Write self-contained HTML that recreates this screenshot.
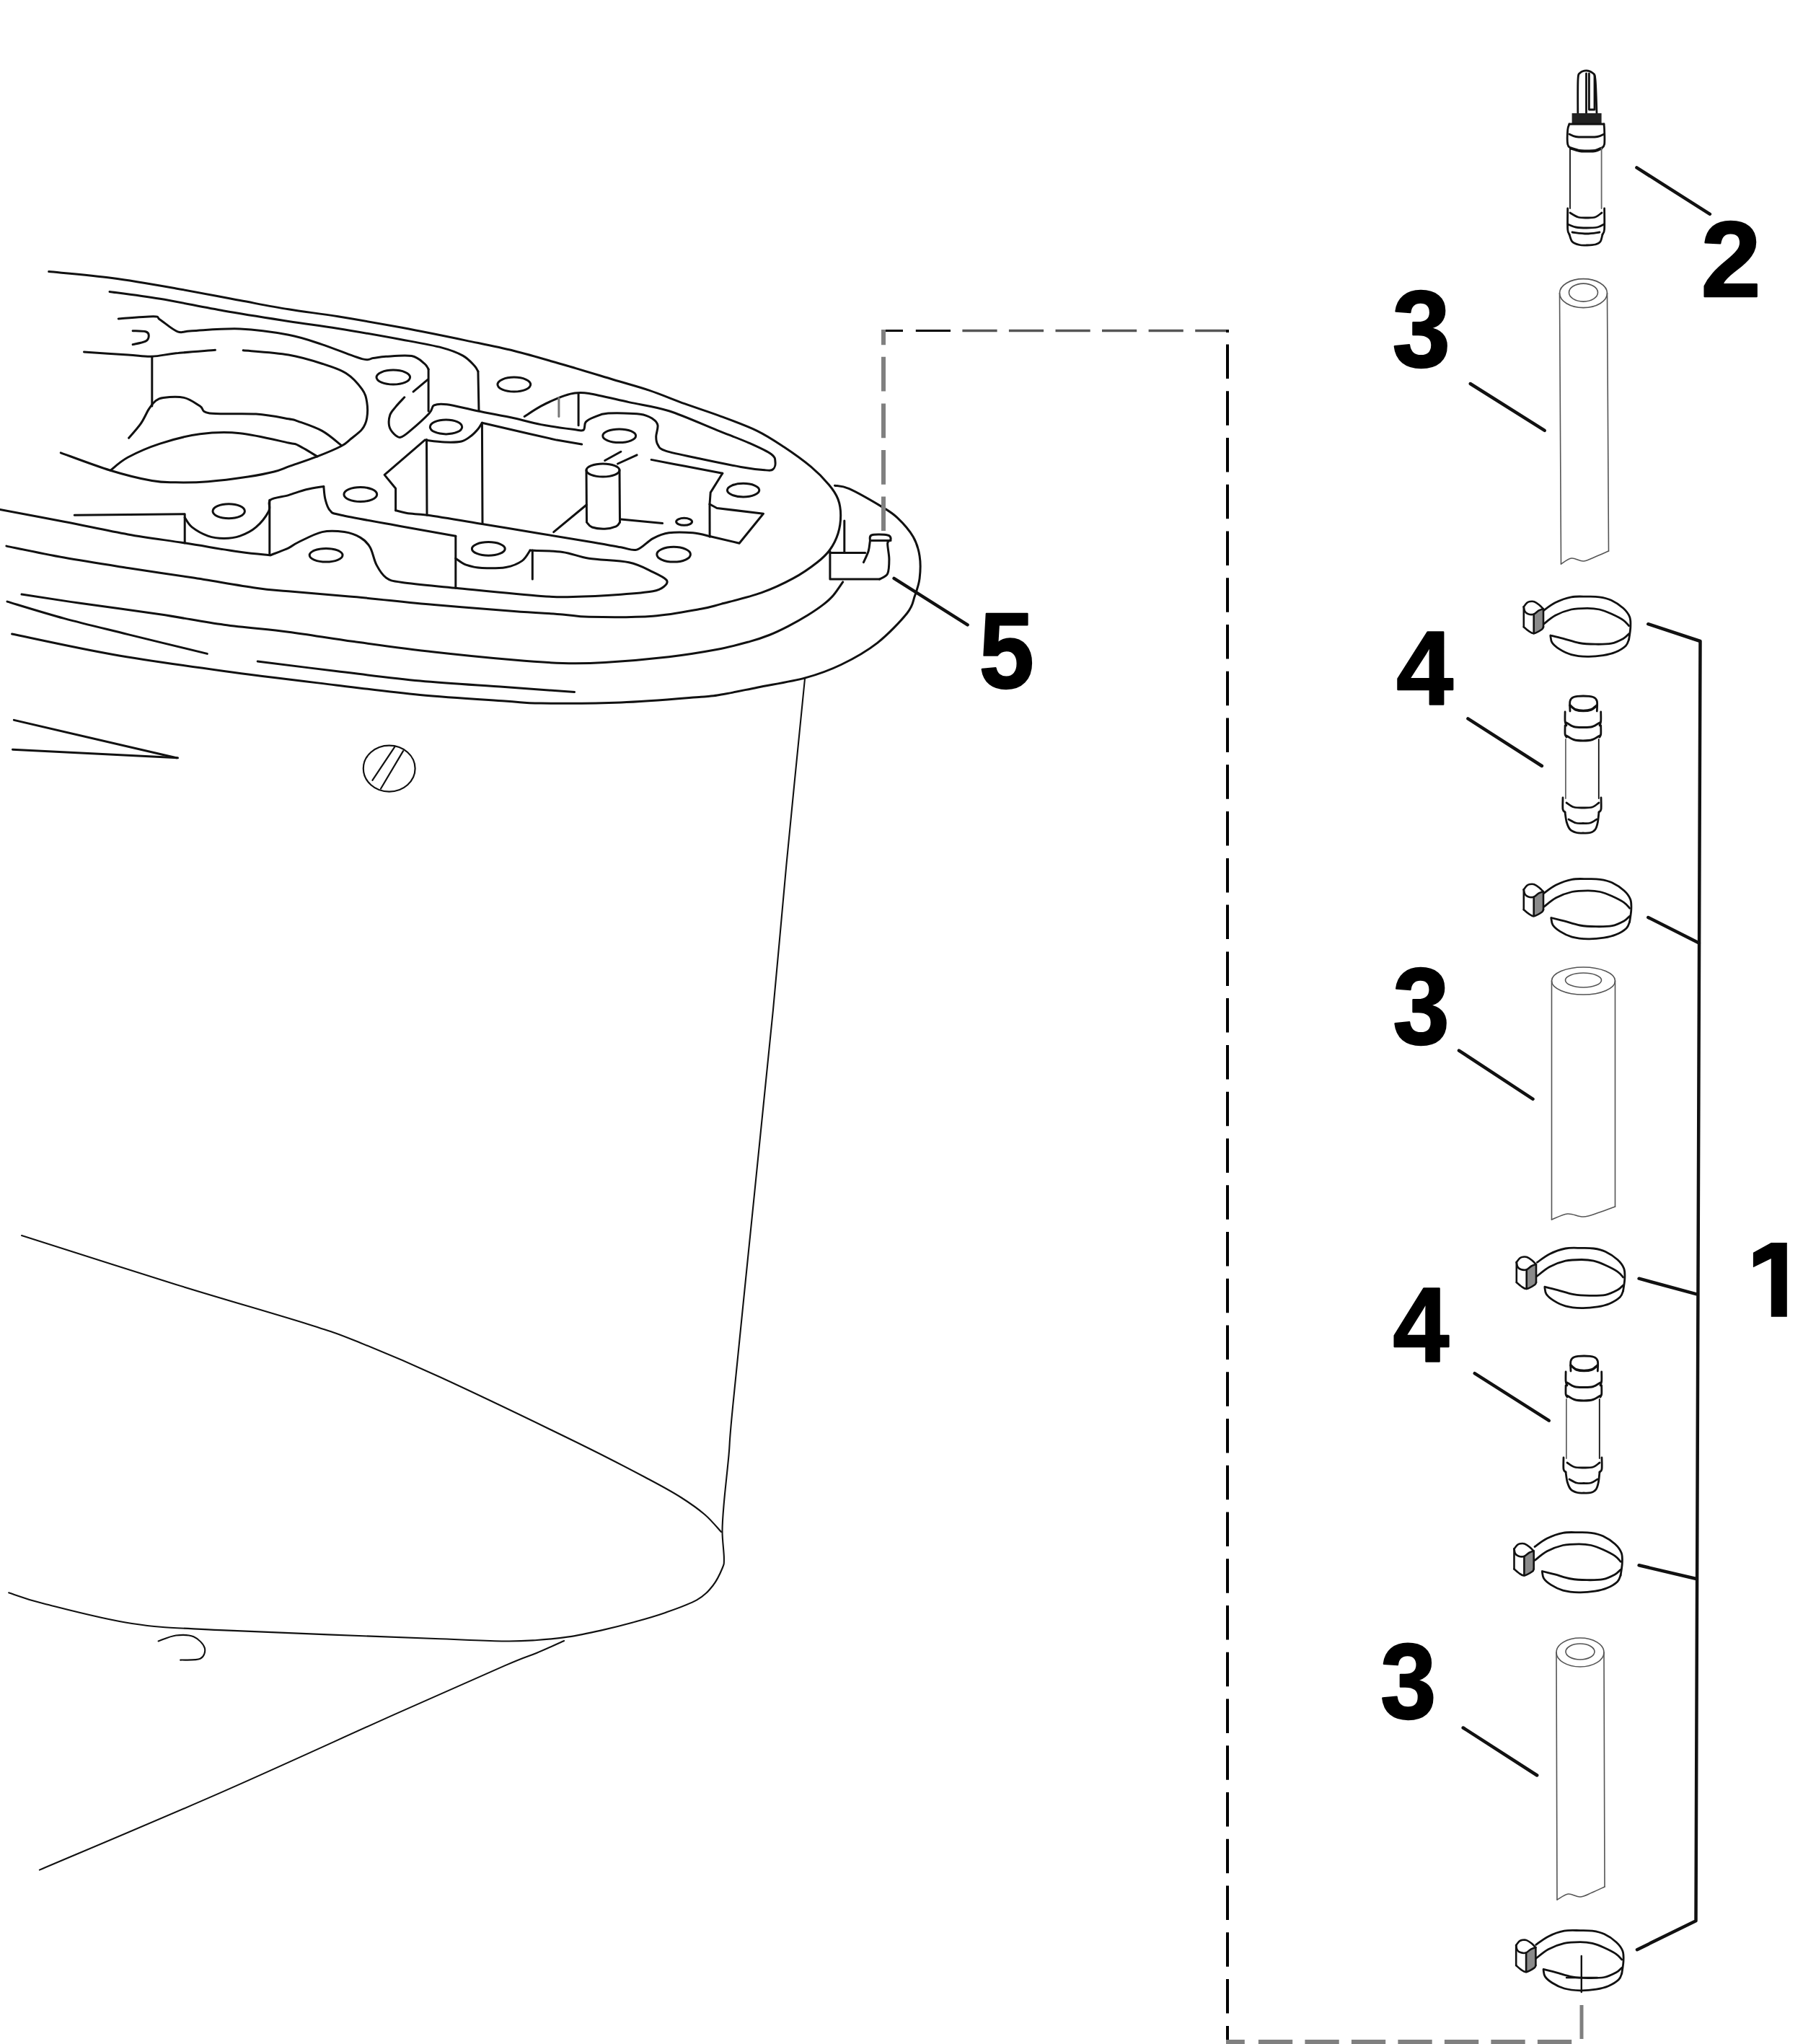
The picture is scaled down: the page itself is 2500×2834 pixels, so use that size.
<!DOCTYPE html>
<html><head><meta charset="utf-8"><style>
html,body{margin:0;padding:0;background:#fff;}
svg{display:block;}
text{font-family:"Liberation Sans",sans-serif;font-weight:bold;}
</style></head><body>
<svg width="2500" height="2834" viewBox="0 0 2500 2834" stroke-linecap="round" stroke-linejoin="round">
<rect width="2500" height="2834" fill="#fff"/>
<path d="M67.7,376.6 C82.3,378.1 125.9,381.6 155.3,385.5 C184.7,389.4 214.4,394.7 244.0,399.9 C273.6,405.1 306.8,411.8 332.8,416.6 C358.8,421.4 377.4,425.1 400.0,428.8 C422.6,432.5 442.4,434.6 468.7,438.8 C494.9,443.1 527.9,448.8 557.5,454.3 C587.1,459.9 620.3,466.7 646.2,472.1 C672.1,477.5 690.5,481.0 712.8,486.5 C735.1,492.0 757.1,498.7 780.0,505.3 C802.9,511.9 830.0,520.2 850.0,526.2 C870.0,532.2 883.3,535.5 899.9,541.1 C916.5,546.7 933.2,553.9 949.8,559.9 C966.4,565.9 983.1,571.1 999.7,577.3 C1016.4,583.5 1035.1,590.2 1049.7,597.3 C1064.3,604.4 1074.6,611.5 1087.1,619.8 C1099.6,628.1 1114.1,638.5 1124.5,647.2 C1134.9,655.9 1143.2,664.7 1149.5,672.2 C1155.8,679.7 1159.3,685.0 1162.0,692.1 C1164.7,699.2 1165.7,706.7 1165.7,714.6 C1165.7,722.5 1164.5,731.9 1162.0,739.8 C1159.5,747.7 1155.7,755.4 1150.9,762.0 C1146.1,768.6 1141.6,773.1 1133.1,779.7 C1124.6,786.4 1112.7,794.9 1099.8,801.9 C1086.9,808.9 1072.1,816.0 1055.5,821.9 C1038.9,827.8 1013.9,833.7 1000.0,837.4 C986.1,841.1 987.7,841.4 971.9,844.2 C956.1,847.0 931.2,852.4 905.3,854.2 C879.4,856.1 837.5,855.7 816.6,855.3 C795.7,854.9 797.3,853.2 780.0,851.9 C762.7,850.6 742.5,849.7 712.8,847.5 C683.1,845.3 638.9,841.9 601.9,838.6 C564.9,835.3 524.5,830.6 490.9,827.5 C457.2,824.4 422.6,821.8 400.0,819.7 C377.4,817.7 377.3,818.4 355.0,815.2 C332.7,812.1 295.8,805.4 266.2,800.8 C236.6,796.2 207.1,792.1 177.5,787.5 C147.9,782.9 116.8,778.2 88.7,773.1 C60.6,768.0 22.2,759.8 8.9,757.1" stroke="#111" stroke-width="3.0" fill="none" />
<path d="M152.0,404.4 C163.7,406.0 195.5,409.9 221.9,414.3 C248.3,418.7 280.9,425.8 310.6,431.0 C340.3,436.2 373.6,441.3 400.0,445.4 C426.4,449.5 442.4,451.1 468.7,455.4 C494.9,459.7 533.5,466.6 557.5,471.0 C581.5,475.4 598.9,478.4 612.9,482.1 C626.9,485.8 634.4,489.0 641.8,493.1 C649.2,497.2 653.8,502.9 657.3,506.5 C660.8,510.1 662.0,513.6 662.9,515.0" stroke="#111" stroke-width="3.0" fill="none" />
<path d="M662.9,515.0 L664.0,569.7" stroke="#111" stroke-width="3.0" fill="none" />
<path d="M164.2,442.0 C172.3,441.4 203.4,438.5 213.0,438.7 C222.6,438.9 216.3,439.7 221.9,443.2 C227.5,446.7 238.9,457.2 246.3,459.8 C253.7,462.4 251.8,459.3 266.2,458.7 C280.6,458.1 310.5,455.1 332.8,456.0 C355.1,456.9 381.0,460.7 400.0,464.3 C419.0,467.9 429.6,472.1 446.6,477.6 C463.6,483.2 490.2,494.5 502.0,497.6 C513.8,500.8 511.9,497.1 517.5,496.5 C523.0,495.9 526.4,494.8 535.3,494.3 C544.2,493.8 561.9,492.0 570.8,493.6 C579.7,495.2 584.6,501.1 588.5,504.2 C592.4,507.3 593.2,510.7 594.1,512.0" stroke="#111" stroke-width="3.0" fill="none" />
<path d="M594.1,512.0 L594.1,570.0" stroke="#111" stroke-width="3.0" fill="none" />
<path d="M184.1,458.7 C187.1,458.9 198.2,458.7 201.9,459.8 C205.6,460.9 206.3,463.2 206.3,465.4 C206.3,467.6 205.6,471.1 201.9,473.1 C198.2,475.1 187.1,476.9 184.1,477.6" stroke="#111" stroke-width="3.0" fill="none" />
<path d="M116.5,488.0 C126.7,488.7 161.8,491.0 177.5,492.0 C193.2,493.0 199.7,494.6 210.8,494.2 C221.9,493.8 229.4,491.3 244.0,489.8 C258.6,488.3 289.3,486.1 298.4,485.3" stroke="#111" stroke-width="3.0" fill="none" />
<path d="M210.8,494.2 L210.8,563.0" stroke="#111" stroke-width="3.0" fill="none" />
<path d="M337.2,485.8 C347.7,486.8 381.8,488.9 400.0,492.0 C418.2,495.1 433.3,499.9 446.6,504.2 C459.9,508.4 470.6,511.6 479.8,517.5 C489.0,523.4 497.2,533.0 502.0,539.7 C506.8,546.4 507.6,550.8 508.7,557.5 C509.8,564.2 509.8,573.4 508.7,579.7 C507.6,586.0 505.7,590.4 502.0,595.2 C498.3,600.0 491.3,604.6 486.5,608.5 C481.7,612.4 481.0,614.4 473.2,618.5 C465.4,622.6 451.7,628.3 439.9,632.9 C428.1,637.5 412.2,642.7 402.2,646.2 C392.2,649.7 389.7,651.5 380.0,654.0 C370.3,656.5 359.2,658.7 343.9,661.0 C328.6,663.3 305.0,666.4 288.4,667.7 C271.8,669.0 256.9,669.0 244.0,668.8 C231.1,668.6 226.0,669.4 210.8,666.6 C195.7,663.8 174.2,658.7 153.1,652.2 C132.0,645.7 95.8,631.9 84.3,627.8" stroke="#111" stroke-width="3.0" fill="none" />
<path d="M178.6,607.3 C181.4,604.0 190.6,594.0 195.2,587.4 C199.8,580.8 203.0,572.6 206.3,567.4 C209.6,562.2 211.9,559.0 215.2,556.3 C218.5,553.6 219.7,552.2 226.3,551.4 C233.0,550.6 246.6,549.5 255.1,551.4 C263.6,553.3 271.4,559.4 277.3,563.0 C283.2,566.6 277.7,571.1 290.6,573.0 C303.6,574.9 336.8,572.8 355.0,574.1 C373.2,575.4 390.3,579.0 400.0,580.7 C409.7,582.4 405.5,581.3 413.3,584.1 C421.1,586.9 436.6,591.9 446.6,597.4 C456.6,602.9 468.8,614.1 473.2,617.4" stroke="#111" stroke-width="3.0" fill="none" />
<path d="M153.1,652.2 C157.2,649.2 166.0,640.2 177.5,634.0 C189.0,627.8 205.3,620.5 221.9,615.1 C238.5,609.7 258.8,604.2 277.3,601.8 C295.8,599.4 312.4,598.7 332.8,600.7 C353.2,602.7 386.6,611.2 400.0,614.0 C413.4,616.8 406.7,614.2 413.3,617.4 C419.9,620.5 435.5,630.3 439.9,632.9" stroke="#111" stroke-width="3.0" fill="none" />
<path d="M560.8,550.8 C558.8,553.0 551.9,560.0 548.6,564.1 C545.3,568.2 542.3,570.8 540.8,575.2 C539.3,579.7 538.8,586.4 539.7,590.8 C540.6,595.2 543.8,599.2 546.4,601.8 C549.0,604.4 551.6,607.0 555.3,606.3 C559.0,605.6 562.0,602.9 568.6,597.4 C575.2,591.9 589.7,578.9 595.2,573.0 C600.8,567.1 597.8,563.9 601.9,561.9 C606.0,559.9 609.6,559.5 619.6,560.8 C629.6,562.1 646.3,566.6 661.8,569.7 C677.3,572.9 698.1,576.6 712.8,579.7 C727.5,582.9 736.4,586.0 750.0,588.6 C763.6,591.2 784.6,594.0 794.4,595.3 C804.2,596.6 805.8,598.1 808.8,596.4 C811.8,594.7 809.7,588.3 812.1,585.3 C814.5,582.3 818.0,580.6 823.2,578.6 C828.4,576.6 832.5,573.8 843.2,573.1 C853.9,572.4 877.1,572.9 887.5,574.2 C897.9,575.5 901.2,578.3 905.3,580.9 C909.4,583.5 911.3,585.6 912.0,589.7 C912.7,593.8 909.7,600.8 909.7,605.3 C909.7,609.8 909.8,613.1 912.0,616.4 C914.2,619.7 913.0,621.9 923.0,625.2 C933.0,628.5 954.5,632.6 971.9,636.3 C989.3,640.0 1012.5,644.8 1027.3,647.4 C1042.1,650.0 1053.2,651.2 1060.6,651.8 C1068.0,652.3 1069.3,652.5 1071.7,650.7 C1074.1,648.9 1075.4,644.3 1075.0,640.8 C1074.6,637.3 1075.6,634.2 1069.5,629.7 C1063.4,625.2 1051.0,619.7 1038.4,614.1 C1025.8,608.5 1012.5,603.8 994.0,596.4 C975.5,589.0 947.8,576.3 927.5,569.8 C907.2,563.3 890.5,561.7 872.0,557.6 C853.5,553.5 829.5,547.4 816.6,545.4 C803.7,543.4 801.1,544.5 794.4,545.4 C787.7,546.3 784.0,547.9 776.6,550.9 C769.2,553.9 758.2,558.7 750.0,563.1 C741.8,567.5 731.0,575.1 727.2,577.5" stroke="#111" stroke-width="3.0" fill="none" />
<path d="M573.0,543.1 L593.0,526.4" stroke="#111" stroke-width="3.0" fill="none" />
<path d="M774.9,552.0 L774.9,577.5" stroke="#777" stroke-width="3.0" fill="none" />
<path d="M802.1,545.4 L802.1,589.7" stroke="#111" stroke-width="3.0" fill="none" />
<path d="M589.3,610.1 C593.8,610.6 608.1,612.7 616.5,613.0 C624.9,613.3 633.6,613.5 639.8,612.0 C645.9,610.5 649.5,607.1 653.4,604.2 C657.3,601.3 660.6,597.5 663.1,594.5 C665.6,591.5 667.5,587.7 668.4,586.3" stroke="#111" stroke-width="3.0" fill="none" />
<path d="M668.4,586.3 L733.0,601.3 L771.8,610.1 L806.7,615.9" stroke="#111" stroke-width="3.0" fill="none" />
<path d="M591.5,609.6 L592.0,714.3" stroke="#111" stroke-width="3.0" fill="none" />
<path d="M668.4,586.3 L669.0,726.5" stroke="#111" stroke-width="3.0" fill="none" />
<path d="M588.5,610.7 L533.1,658.4 L548.6,677.3 L548.6,707.7" stroke="#111" stroke-width="3.0" fill="none" />
<path d="M548.6,707.7 C551.9,708.4 561.2,711.0 568.6,712.1 C576.0,713.2 576.4,711.9 593.0,714.3 C609.6,716.7 642.2,722.2 668.4,726.5 C694.6,730.8 725.3,735.8 750.0,739.9 C774.7,744.0 798.1,747.9 816.6,751.0 C835.1,754.1 849.8,756.9 860.9,758.8 C872.0,760.6 875.7,764.1 883.1,762.1 C890.5,760.1 897.9,750.5 905.3,746.6 C912.7,742.7 918.2,740.1 927.5,738.8 C936.8,737.5 951.4,738.0 960.8,738.8 C970.2,739.6 980.1,742.7 984.0,743.5" stroke="#111" stroke-width="3.0" fill="none" />
<path d="M984.0,743.5 L1025.1,753.2 L1058.4,712.2 L994.0,704.5 L984.0,699.0" stroke="#111" stroke-width="3.0" fill="none" />
<path d="M903.1,637.4 C910.9,638.9 933.2,643.1 949.7,646.3 C966.2,649.4 993.1,654.6 1001.8,656.3" stroke="#111" stroke-width="3.0" fill="none" />
<path d="M1001.8,656.3 L985.2,682.9 L984.0,699.0 L984.1,744.3" stroke="#111" stroke-width="3.0" fill="none" />
<path d="M103.2,714.3 L255.1,712.7" stroke="#111" stroke-width="3.0" fill="none" />
<path d="M256.2,712.7 L256.2,753.1" stroke="#111" stroke-width="3.0" fill="none" />
<path d="M256.2,717.6 C257.9,719.8 260.8,726.6 266.2,730.9 C271.6,735.1 281.0,740.5 288.4,743.1 C295.8,745.7 303.2,746.5 310.6,746.5 C318.0,746.5 325.4,745.7 332.8,743.1 C340.2,740.5 348.4,736.6 355.0,730.9 C361.6,725.2 369.4,715.0 372.7,708.7 C376.0,702.4 370.3,696.9 374.9,693.2 C379.4,689.5 391.8,689.0 400.0,686.6 C408.2,684.2 416.3,680.8 424.4,678.8 C432.5,676.8 444.7,675.1 448.8,674.4" stroke="#111" stroke-width="3.0" fill="none" />
<path d="M448.8,674.4 C449.2,677.4 449.5,686.7 451.0,692.2 C452.5,697.8 453.9,704.0 457.6,707.7 C461.3,711.4 456.6,710.6 473.2,714.3 C489.8,718.0 531.1,725.1 557.5,729.9 C583.9,734.7 619.4,741.0 631.8,743.2" stroke="#111" stroke-width="3.0" fill="none" />
<path d="M373.8,693.2 L373.8,768.6" stroke="#111" stroke-width="3.0" fill="none" />
<path d="M631.8,743.2 L631.8,815.3" stroke="#111" stroke-width="3.0" fill="none" />
<path d="M0.0,706.5 C14.8,709.3 59.1,717.5 88.7,723.2 C118.3,728.9 149.4,735.9 177.5,740.9 C205.6,745.9 231.5,749.0 257.4,753.1 C283.3,757.2 313.2,762.5 332.8,765.3 C352.4,768.1 367.9,769.0 374.9,769.8" stroke="#111" stroke-width="3.0" fill="none" />
<path d="M374.9,769.8 C379.1,768.1 393.6,762.8 400.0,759.8 C406.4,756.8 405.5,755.7 413.3,752.0 C421.1,748.3 435.9,740.0 446.6,737.6 C457.3,735.2 468.7,736.3 477.6,737.6 C486.5,738.9 493.9,741.9 499.8,745.4 C505.7,748.9 509.4,752.4 513.1,758.7 C516.8,765.0 518.3,776.1 522.0,783.1 C525.7,790.1 529.4,796.8 535.3,800.9 C541.2,805.0 541.4,805.1 557.5,807.5 C573.6,809.9 599.7,812.1 631.8,815.3 C663.9,818.4 722.9,824.4 750.0,826.4 C777.1,828.4 775.9,827.9 794.4,827.5 C812.9,827.1 842.4,825.5 860.9,824.2 C879.4,822.9 895.3,821.6 905.3,819.8 C915.3,817.9 917.6,815.7 920.8,813.1 C923.9,810.5 926.8,807.5 924.2,804.2 C921.6,800.9 914.0,797.2 905.3,793.1 C896.6,789.0 886.8,782.9 872.0,779.8 C857.2,776.7 831.9,776.7 816.6,774.3 C801.3,771.9 793.6,767.3 780.0,765.4 C766.4,763.5 742.5,763.5 735.0,763.1" stroke="#111" stroke-width="3.0" fill="none" />
<path d="M631.8,774.2 C634.2,775.7 640.1,780.9 646.2,783.1 C652.3,785.3 659.1,787.0 668.4,787.5 C677.6,788.0 692.5,788.0 701.7,786.4 C711.0,784.8 718.4,781.5 723.9,777.6 C729.4,773.7 733.1,765.5 735.0,763.1" stroke="#111" stroke-width="3.0" fill="none" />
<path d="M738.3,763.1 L738.3,803.1" stroke="#111" stroke-width="3.0" fill="none" />
<ellipse cx="545.3" cy="523.1" rx="23.3" ry="10.0" stroke="#111" stroke-width="3.0" fill="none"/>
<ellipse cx="712.8" cy="533.1" rx="22.9" ry="10.0" stroke="#111" stroke-width="3.0" fill="none"/>
<ellipse cx="618.5" cy="591.9" rx="22.2" ry="10.0" stroke="#111" stroke-width="3.0" fill="none"/>
<ellipse cx="499.8" cy="685.5" rx="22.9" ry="10.0" stroke="#111" stroke-width="3.0" fill="none"/>
<ellipse cx="452.1" cy="769.8" rx="22.9" ry="9.3" stroke="#111" stroke-width="3.0" fill="none"/>
<ellipse cx="677.3" cy="760.9" rx="22.9" ry="9.3" stroke="#111" stroke-width="3.0" fill="none"/>
<ellipse cx="858.7" cy="604.2" rx="22.9" ry="9.3" stroke="#111" stroke-width="3.0" fill="none"/>
<ellipse cx="1030.6" cy="679.6" rx="22.2" ry="9.3" stroke="#111" stroke-width="3.0" fill="none"/>
<ellipse cx="934.1" cy="768.7" rx="23.3" ry="10.4" stroke="#111" stroke-width="3.0" fill="none"/>
<ellipse cx="317.2" cy="708.7" rx="22.2" ry="10.0" stroke="#111" stroke-width="3.0" fill="none"/>
<ellipse cx="948.6" cy="723.3" rx="11.0" ry="5.0" stroke="#111" stroke-width="3.0" fill="none"/>
<ellipse cx="836.0" cy="652.0" rx="23.0" ry="9.0" stroke="#111" stroke-width="3.0" fill="none"/>
<path d="M813.0,652.0 L813.5,724.0" stroke="#111" stroke-width="3.0" fill="none" />
<path d="M859.0,652.0 L859.5,724.0" stroke="#111" stroke-width="3.0" fill="none" />
<path d="M813.5,724.0 C814.8,725.2 816.8,729.5 821.0,731.0 C825.2,732.5 833.2,733.4 838.7,733.2 C844.2,733.0 850.8,731.4 854.3,729.9 C857.8,728.4 858.6,725.0 859.5,724.0" stroke="#111" stroke-width="3.0" fill="none" />
<path d="M838.7,638.5 L860.9,626.3" stroke="#111" stroke-width="3.0" fill="none" />
<path d="M856.5,643.0 L883.1,630.8" stroke="#111" stroke-width="3.0" fill="none" />
<path d="M860.9,719.9 L918.6,725.5" stroke="#111" stroke-width="3.0" fill="none" />
<path d="M767.7,737.7 L813.2,700.0" stroke="#111" stroke-width="3.0" fill="none" />
<path d="M30.0,824.1 C43.5,826.1 78.9,831.7 110.9,836.3 C142.9,840.9 188.6,846.8 221.9,851.8 C255.2,856.8 280.9,862.2 310.6,866.3 C340.3,870.4 369.9,872.3 400.0,876.2 C430.1,880.1 457.2,885.0 490.9,889.6 C524.5,894.2 564.9,899.8 601.9,904.0 C638.9,908.2 683.1,912.5 712.8,915.1 C742.5,917.7 759.0,918.9 780.0,919.5 C801.0,920.1 814.1,920.0 838.7,918.5 C863.3,917.0 901.6,913.7 927.5,910.7 C953.4,907.7 975.2,904.0 994.0,900.5 C1012.8,897.0 1027.9,892.7 1040.0,889.4 C1052.1,886.1 1057.7,884.0 1066.6,880.5 C1075.5,877.0 1084.3,872.7 1093.2,868.1 C1102.1,863.5 1111.8,858.0 1119.9,853.0 C1128.0,848.0 1136.1,842.5 1142.0,837.9 C1147.9,833.3 1151.0,830.7 1155.4,825.5 C1159.9,820.3 1166.5,810.0 1168.7,806.9" stroke="#111" stroke-width="3.0" fill="none" />
<path d="M10.0,834.1 C23.1,838.0 60.8,849.8 88.7,857.4 C116.6,865.0 144.4,871.4 177.5,879.6 C210.6,887.8 269.0,901.9 287.3,906.4" stroke="#111" stroke-width="3.0" fill="none" />
<path d="M16.6,879.0 C39.7,883.7 106.3,898.6 155.3,907.2 C204.3,915.8 258.8,923.4 310.6,930.5 C362.4,937.6 420.6,944.4 465.9,949.9 C511.2,955.4 543.4,959.8 582.4,963.5 C621.4,967.2 672.1,970.1 700.0,972.0 C727.9,973.9 723.2,974.8 750.0,975.1 C776.8,975.4 823.9,975.5 860.9,974.0 C897.9,972.5 948.7,968.0 971.9,966.2 C995.1,964.4 987.0,965.3 1000.0,963.1 C1013.0,960.9 1030.5,957.1 1049.9,953.2 C1069.3,949.3 1097.1,945.2 1116.5,939.9 C1135.9,934.6 1149.8,929.5 1166.4,921.5 C1183.0,913.5 1201.0,903.5 1216.3,891.6 C1231.5,879.7 1249.2,860.9 1257.9,850.0 C1266.6,839.1 1265.5,834.3 1268.4,826.3 C1271.3,818.3 1274.0,811.1 1275.1,801.9 C1276.2,792.7 1276.6,780.5 1275.1,770.9 C1273.6,761.3 1271.4,753.1 1266.2,744.2 C1261.0,735.3 1251.4,724.6 1244.0,717.6 C1236.6,710.6 1233.0,708.8 1221.9,702.1 C1210.8,695.5 1188.2,682.5 1177.5,677.7 C1166.8,672.9 1160.8,674.0 1157.5,673.2" stroke="#111" stroke-width="3.0" fill="none" />
<path d="M357.2,916.9 C375.3,919.2 428.4,926.0 465.9,930.5 C503.4,935.0 543.4,940.4 582.4,944.1 C621.4,947.8 664.3,950.0 700.0,952.6 C735.7,955.2 780.5,958.4 796.6,959.5" stroke="#111" stroke-width="3.0" fill="none" />
<path d="M19.4,998.4 L244.6,1050.8" stroke="#111" stroke-width="3.0" fill="none" />
<path d="M17.5,1039.2 L246.5,1050.8" stroke="#111" stroke-width="3.0" fill="none" />
<ellipse cx="539.7" cy="1065.6" rx="35.9" ry="32.0" stroke="#111" stroke-width="2.2" fill="none"/>
<path d="M516.4,1081.9 L547.4,1035.3" stroke="#111" stroke-width="2.2" fill="none" />
<path d="M528.0,1093.5 L559.1,1041.1" stroke="#111" stroke-width="2.2" fill="none" />
<path d="M12.2,2208.3 C20.3,2210.8 32.5,2216.4 61.0,2223.5 C89.5,2230.6 142.3,2244.9 183.0,2251.0 C223.7,2257.1 233.9,2256.5 305.1,2260.1 C376.3,2263.7 544.3,2269.7 610.1,2272.3 C675.9,2274.9 677.6,2275.2 700.0,2275.5 C722.4,2275.8 729.6,2275.0 744.4,2274.0 C759.2,2273.0 773.9,2271.6 788.7,2269.4 C803.5,2267.2 818.3,2263.9 833.1,2260.6 C847.9,2257.3 862.7,2253.6 877.5,2249.5 C892.3,2245.4 907.0,2241.4 921.8,2236.2 C936.6,2231.0 955.1,2224.7 966.2,2218.4 C977.3,2212.1 982.5,2205.9 988.4,2198.5 C994.3,2191.1 999.1,2180.4 1001.7,2174.0 C1004.3,2167.6 1003.9,2168.5 1003.9,2160.0 C1003.9,2151.5 1001.5,2135.8 1001.5,2123.0 C1001.5,2110.2 1002.4,2100.8 1003.9,2083.1 C1005.4,2065.4 1008.6,2038.8 1010.6,2016.6 C1012.6,1994.4 1010.1,2011.1 1016.1,1950.0 C1022.1,1888.9 1037.3,1741.7 1046.6,1650.0 C1055.9,1558.3 1064.7,1475.0 1072.0,1400.0 C1079.3,1325.0 1083.0,1276.5 1090.3,1200.0 C1097.6,1123.5 1111.7,984.2 1116.0,941.0" stroke="#111" stroke-width="2.1" fill="none" />
<path d="M30.0,1713.0 C65.7,1724.3 177.8,1760.5 244.0,1781.0 C310.2,1801.5 384.3,1822.5 427.0,1836.0 C469.7,1849.5 469.5,1849.8 500.0,1862.0 C530.5,1874.2 560.0,1886.3 610.0,1909.3 C660.0,1932.3 751.7,1976.4 800.0,2000.0 C848.3,2023.6 875.7,2038.3 899.7,2051.0 C923.7,2063.7 931.1,2067.8 944.0,2076.0 C956.9,2084.2 968.0,2092.0 977.3,2100.0 C986.6,2108.0 996.2,2120.0 1000.0,2124.0" stroke="#111" stroke-width="2.1" fill="none" />
<path d="M54.9,2592.6 C96.6,2574.8 222.7,2522.0 305.1,2485.9 C387.5,2449.8 483.3,2405.5 549.1,2376.1 C614.9,2346.7 667.5,2323.5 700.0,2309.4 C732.5,2295.3 730.7,2297.4 744.4,2291.7 C758.1,2286.0 775.8,2277.8 782.1,2275.0" stroke="#111" stroke-width="2.1" fill="none" />
<path d="M219.6,2275.4 C223.7,2274.1 235.8,2268.5 244.0,2267.5 C252.2,2266.5 261.9,2266.5 268.5,2269.3 C275.1,2272.2 282.2,2279.5 283.7,2284.6 C285.2,2289.7 283.2,2297.0 277.6,2299.8 C272.0,2302.6 254.8,2301.3 250.2,2301.6" stroke="#111" stroke-width="2.1" fill="none" />
<path d="M1150.9,764.2 L1150.9,803.0 L1219.6,803.0" stroke="#111" stroke-width="3.0" fill="none" />
<path d="M1219.6,803.0 C1221.4,801.7 1228.5,799.9 1230.7,795.3 C1232.9,790.7 1232.9,782.3 1232.9,775.3 C1232.9,768.3 1230.3,757.7 1230.7,753.1 C1231.1,748.5 1235.2,749.5 1235.2,747.6 C1235.2,745.8 1235.2,742.9 1230.7,742.0 C1226.2,741.1 1212.6,740.5 1208.5,742.0 C1204.4,743.5 1207.0,747.2 1206.3,750.9 C1205.6,754.6 1205.6,759.4 1204.1,764.2 C1202.6,769.0 1198.5,777.1 1197.4,779.7" stroke="#111" stroke-width="3.0" fill="none" />
<path d="M1150.9,766.4 L1199.7,766.4" stroke="#111" stroke-width="3.0" fill="none" />
<path d="M1170.8,722.0 L1170.8,766.4" stroke="#111" stroke-width="3.0" fill="none" />
<path d="M1208.5,749.5 L1235.0,749.5" stroke="#111" stroke-width="3.0" fill="none" />
<path d="M1222.0,458.5 L1252.0,458.5 M1269.8,458.5 L1318.0,458.5" stroke="#000" stroke-width="3.2" fill="none" stroke-linecap="butt"/>
<path d="M1334.4,458.5 L1382.6,458.5 M1398.9,458.5 L1447.1,458.5 M1463.5,458.5 L1511.7,458.5 M1528.0,458.5 L1576.2,458.5 M1592.6,458.5 L1640.8,458.5 M1657.2,458.5 L1700.0,458.5" stroke="#555" stroke-width="3.4" fill="none" stroke-linecap="butt"/>
<path d="M1225,457.0 L1225,478.3 M1225,494.8 L1225,542.6 M1225,559.4 L1225,607.2 M1225,624.0 L1225,671.8 M1225,688.6 L1225,736.0" stroke="#808080" stroke-width="6" fill="none" stroke-linecap="butt"/>
<path d="M1702,457.0 L1702,461.0 M1702,477.5 L1702,525.0 M1702,542.3 L1702,589.8 M1702,607.0 L1702,654.5 M1702,671.8 L1702,719.3 M1702,736.5 L1702,784.0 M1702,801.3 L1702,848.8 M1702,866.1 L1702,913.6 M1702,930.8 L1702,978.3 M1702,995.6 L1702,1043.1 M1702,1060.3 L1702,1107.8 M1702,1125.1 L1702,1172.6 M1702,1189.9 L1702,1237.4 M1702,1254.6 L1702,1302.1 M1702,1319.4 L1702,1366.9 M1702,1384.1 L1702,1431.6 M1702,1448.9 L1702,1496.4 M1702,1513.7 L1702,1561.2 M1702,1578.4 L1702,1625.9 M1702,1643.2 L1702,1690.7 M1702,1707.9 L1702,1755.4 M1702,1772.7 L1702,1820.2 M1702,1837.5 L1702,1885.0 M1702,1902.2 L1702,1949.7 M1702,1967.0 L1702,2014.5 M1702,2031.7 L1702,2079.2 M1702,2096.5 L1702,2144.0 M1702,2161.3 L1702,2208.8 M1702,2226.0 L1702,2273.5 M1702,2290.8 L1702,2338.3 M1702,2355.5 L1702,2403.0 M1702,2420.3 L1702,2467.8 M1702,2485.1 L1702,2532.6 M1702,2549.8 L1702,2597.3 M1702,2614.6 L1702,2662.1 M1702,2679.3 L1702,2726.8 M1702,2744.1 L1702,2791.6 M1702,2808.9 L1702,2834.0" stroke="#000" stroke-width="4" fill="none" stroke-linecap="butt"/>
<path d="M1700.0,2831 L1725.8,2831 M1744.9,2831 L1792.2,2831 M1809.4,2831 L1856.7,2831 M1873.9,2831 L1921.2,2831 M1938.4,2831 L1985.7,2831 M2002.9,2831 L2050.2,2831 M2067.4,2831 L2114.7,2831 M2131.9,2831 L2179.2,2831" stroke="#808080" stroke-width="6" fill="none" stroke-linecap="butt"/>
<path d="M2193,2780 L2193,2827" stroke="#808080" stroke-width="5" fill="none" stroke-linecap="butt"/>
<path d="M2285.3,865.2 L2357.5,889.0 L2351.5,2663.3 L2270.0,2703.2" stroke="#111" stroke-width="4.5" fill="none" />
<path d="M2285.3,1272.0 L2355.8,1307.6" stroke="#111" stroke-width="4.5" fill="none" />
<path d="M2272.6,1772.7 L2352.5,1794.3" stroke="#111" stroke-width="4.5" fill="none" />
<path d="M2272.6,2170.3 L2352.0,2189.0" stroke="#111" stroke-width="4.5" fill="none" />
<path d="M2269.4,232.4 L2370.9,296.9" stroke="#111" stroke-width="4.5" fill="none" />
<path d="M2038.7,532.0 L2141.8,596.9" stroke="#111" stroke-width="4.5" fill="none" />
<path d="M2035.4,996.4 L2137.9,1062.0" stroke="#111" stroke-width="4.5" fill="none" />
<path d="M2023.0,1456.6 L2125.5,1523.8" stroke="#111" stroke-width="4.5" fill="none" />
<path d="M2044.7,1904.2 L2147.8,1969.7" stroke="#111" stroke-width="4.5" fill="none" />
<path d="M2028.7,2395.5 L2131.2,2461.5" stroke="#111" stroke-width="4.5" fill="none" />
<path d="M1239.6,801.9 L1341.6,866.3" stroke="#111" stroke-width="4.5" fill="none" />
<ellipse cx="2195.5" cy="406.6" rx="33.0" ry="20.0" stroke="#555" stroke-width="1.6" fill="none"/>
<ellipse cx="2195.5" cy="405.6" rx="20.0" ry="12.5" stroke="#555" stroke-width="1.6" fill="none"/>
<path d="M2162.5,406.6 L2164.5,782.0" stroke="#555" stroke-width="1.6" fill="none" />
<path d="M2228.5,406.6 L2230.5,764.0" stroke="#555" stroke-width="1.6" fill="none" />
<path d="M2164.5,782.0 C2166.9,780.7 2173.8,774.7 2179.0,774.0 C2184.2,773.3 2190.0,778.3 2195.5,778.0 C2201.0,777.7 2206.2,774.3 2212.0,772.0 C2217.8,769.7 2227.4,765.3 2230.5,764.0" stroke="#555" stroke-width="1.6" fill="none" />
<ellipse cx="2195.5" cy="1360.0" rx="44.0" ry="19.0" stroke="#555" stroke-width="1.6" fill="none"/>
<ellipse cx="2195.5" cy="1359.0" rx="25.0" ry="10.0" stroke="#555" stroke-width="1.6" fill="none"/>
<path d="M2151.5,1360.0 L2151.5,1691.0" stroke="#555" stroke-width="1.6" fill="none" />
<path d="M2239.5,1360.0 L2239.5,1673.0" stroke="#555" stroke-width="1.6" fill="none" />
<path d="M2151.5,1691.0 C2155.2,1689.7 2166.2,1683.7 2173.5,1683.0 C2180.8,1682.3 2188.2,1687.3 2195.5,1687.0 C2202.8,1686.7 2210.2,1683.3 2217.5,1681.0 C2224.8,1678.7 2235.8,1674.3 2239.5,1673.0" stroke="#555" stroke-width="1.6" fill="none" />
<ellipse cx="2191.0" cy="2291.0" rx="33.0" ry="20.0" stroke="#555" stroke-width="1.6" fill="none"/>
<ellipse cx="2191.0" cy="2290.0" rx="20.0" ry="11.0" stroke="#555" stroke-width="1.6" fill="none"/>
<path d="M2158.0,2291.0 L2159.0,2634.0" stroke="#555" stroke-width="1.6" fill="none" />
<path d="M2224.0,2291.0 L2225.0,2616.0" stroke="#555" stroke-width="1.6" fill="none" />
<path d="M2159.0,2634.0 C2161.6,2632.7 2169.2,2626.7 2174.5,2626.0 C2179.8,2625.3 2185.5,2630.3 2191.0,2630.0 C2196.5,2629.7 2201.8,2626.3 2207.5,2624.0 C2213.2,2621.7 2222.1,2617.3 2225.0,2616.0" stroke="#555" stroke-width="1.6" fill="none" />
<path d="M2139.5,847.0 C2142.3,845.1 2150.1,838.7 2156.6,835.5 C2163.1,832.3 2171.3,829.2 2178.7,827.8 C2186.1,826.4 2194.4,827.2 2200.9,827.2 C2207.4,827.2 2212.1,827.0 2217.6,827.8 C2223.1,828.6 2228.7,829.6 2234.2,832.2 C2239.7,834.8 2246.6,839.4 2250.8,843.3 C2255.1,847.2 2258.0,851.1 2259.7,855.5 C2261.4,859.9 2261.0,864.7 2260.8,869.9 C2260.6,875.1 2259.0,883.8 2258.6,886.6" stroke="#111" stroke-width="2.8" fill="none" />
<path d="M2139.5,866.0 C2142.3,863.9 2150.1,856.8 2156.6,853.3 C2163.1,849.8 2171.3,846.7 2178.7,845.0 C2186.1,843.3 2194.4,843.3 2200.9,843.3 C2207.4,843.3 2212.1,843.7 2217.6,845.0 C2223.1,846.3 2228.7,848.6 2234.2,851.1 C2239.7,853.6 2246.7,857.1 2250.8,859.9 C2254.9,862.7 2257.3,866.4 2258.6,867.7" stroke="#111" stroke-width="2.8" fill="none" />
<path d="M2149.9,881.0 C2152.8,881.7 2160.9,883.6 2167.6,885.4 C2174.2,887.1 2182.4,890.2 2189.8,891.5 C2197.2,892.8 2204.6,893.1 2212.0,893.2 C2219.4,893.3 2227.7,893.4 2234.2,892.1 C2240.7,890.8 2246.7,887.6 2250.8,885.4 C2254.9,883.2 2257.3,879.9 2258.6,878.8" stroke="#111" stroke-width="2.8" fill="none" />
<path d="M2149.9,882.1 C2150.3,883.6 2150.1,888.0 2152.1,891.0 C2154.1,894.0 2157.7,897.1 2162.1,899.9 C2166.5,902.7 2172.2,905.9 2178.7,907.6 C2185.2,909.4 2193.5,910.2 2200.9,910.4 C2208.3,910.6 2216.6,909.7 2223.1,908.7 C2229.6,907.7 2234.6,906.5 2239.8,904.3 C2245.0,902.1 2251.1,898.3 2254.2,895.4 C2257.3,892.5 2257.9,888.1 2258.6,886.6" stroke="#111" stroke-width="2.8" fill="none" />
<path d="M2126.7,851.7 L2133.3,846.7 L2140.0,844.2 L2140.0,869.2 L2137.8,872.7 L2126.7,878.2 Z" fill="#8a8a8a" stroke="none"/>
<path d="M2112.8,841.2 C2113.5,840.3 2115.9,836.9 2117.3,835.7 C2118.7,834.5 2119.6,834.2 2121.3,834.0 C2123.0,833.8 2125.1,833.4 2127.3,834.2 C2129.5,835.0 2132.2,837.0 2134.3,838.7 C2136.4,840.4 2138.9,843.3 2139.8,844.2" stroke="#111" stroke-width="2.6" fill="none" />
<path d="M2112.8,841.2 C2113.0,842.3 2113.3,846.0 2114.3,847.7 C2115.3,849.4 2116.8,850.5 2118.8,851.2 C2120.8,851.9 2123.9,852.5 2126.3,851.7 C2128.7,851.0 2131.0,848.0 2133.3,846.7 C2135.5,845.5 2138.7,844.6 2139.8,844.2" stroke="#111" stroke-width="2.6" fill="none" />
<path d="M2112.8,841.2 L2112.8,869.2" stroke="#111" stroke-width="2.6" fill="none" />
<path d="M2126.7,851.7 L2126.7,878.2" stroke="#111" stroke-width="2.6" fill="none" />
<path d="M2140.0,844.2 L2140.0,869.2" stroke="#111" stroke-width="2.6" fill="none" />
<path d="M2112.8,869.2 C2113.9,870.1 2117.0,873.2 2119.3,874.7 C2121.6,876.2 2123.6,878.5 2126.7,878.2 C2129.8,877.9 2135.6,874.2 2137.8,872.7 C2140.0,871.2 2139.6,869.8 2140.0,869.2" stroke="#111" stroke-width="2.6" fill="none" />
<path d="M2140.5,1238.5 C2143.3,1236.6 2151.1,1230.2 2157.6,1227.0 C2164.1,1223.8 2172.3,1220.7 2179.7,1219.3 C2187.1,1217.9 2195.4,1218.7 2201.9,1218.7 C2208.4,1218.7 2213.1,1218.5 2218.6,1219.3 C2224.1,1220.1 2229.7,1221.1 2235.2,1223.7 C2240.7,1226.3 2247.6,1230.9 2251.8,1234.8 C2256.1,1238.7 2259.0,1242.6 2260.7,1247.0 C2262.4,1251.4 2262.0,1256.2 2261.8,1261.4 C2261.6,1266.6 2260.0,1275.3 2259.6,1278.1" stroke="#111" stroke-width="2.8" fill="none" />
<path d="M2140.5,1257.5 C2143.3,1255.4 2151.1,1248.3 2157.6,1244.8 C2164.1,1241.3 2172.3,1238.2 2179.7,1236.5 C2187.1,1234.8 2195.4,1234.8 2201.9,1234.8 C2208.4,1234.8 2213.1,1235.2 2218.6,1236.5 C2224.1,1237.8 2229.7,1240.1 2235.2,1242.6 C2240.7,1245.1 2247.7,1248.6 2251.8,1251.4 C2255.9,1254.2 2258.3,1257.9 2259.6,1259.2" stroke="#111" stroke-width="2.8" fill="none" />
<path d="M2150.9,1272.5 C2153.8,1273.2 2161.9,1275.2 2168.6,1276.9 C2175.2,1278.7 2183.4,1281.7 2190.8,1283.0 C2198.2,1284.3 2205.6,1284.6 2213.0,1284.7 C2220.4,1284.8 2228.7,1284.9 2235.2,1283.6 C2241.7,1282.3 2247.7,1279.1 2251.8,1276.9 C2255.9,1274.7 2258.3,1271.4 2259.6,1270.3" stroke="#111" stroke-width="2.8" fill="none" />
<path d="M2150.9,1273.6 C2151.3,1275.1 2151.1,1279.5 2153.1,1282.5 C2155.1,1285.5 2158.7,1288.6 2163.1,1291.4 C2167.5,1294.2 2173.2,1297.3 2179.7,1299.1 C2186.2,1300.8 2194.5,1301.7 2201.9,1301.9 C2209.3,1302.1 2217.6,1301.2 2224.1,1300.2 C2230.6,1299.2 2235.6,1298.0 2240.8,1295.8 C2246.0,1293.6 2252.1,1289.9 2255.2,1286.9 C2258.3,1284.0 2258.9,1279.6 2259.6,1278.1" stroke="#111" stroke-width="2.8" fill="none" />
<path d="M2126.7,1243.7 L2133.3,1238.7 L2140.0,1236.2 L2140.0,1261.2 L2137.8,1264.7 L2126.7,1270.2 Z" fill="#8a8a8a" stroke="none"/>
<path d="M2112.8,1233.2 C2113.5,1232.3 2115.9,1228.9 2117.3,1227.7 C2118.7,1226.5 2119.6,1226.2 2121.3,1226.0 C2123.0,1225.8 2125.1,1225.4 2127.3,1226.2 C2129.5,1227.0 2132.2,1229.0 2134.3,1230.7 C2136.4,1232.4 2138.9,1235.3 2139.8,1236.2" stroke="#111" stroke-width="2.6" fill="none" />
<path d="M2112.8,1233.2 C2113.0,1234.3 2113.3,1238.0 2114.3,1239.7 C2115.3,1241.4 2116.8,1242.5 2118.8,1243.2 C2120.8,1243.9 2123.9,1244.5 2126.3,1243.7 C2128.7,1243.0 2131.0,1240.0 2133.3,1238.7 C2135.5,1237.5 2138.7,1236.6 2139.8,1236.2" stroke="#111" stroke-width="2.6" fill="none" />
<path d="M2112.8,1233.2 L2112.8,1261.2" stroke="#111" stroke-width="2.6" fill="none" />
<path d="M2126.7,1243.7 L2126.7,1270.2" stroke="#111" stroke-width="2.6" fill="none" />
<path d="M2140.0,1236.2 L2140.0,1261.2" stroke="#111" stroke-width="2.6" fill="none" />
<path d="M2112.8,1261.2 C2113.9,1262.1 2117.0,1265.2 2119.3,1266.7 C2121.6,1268.2 2123.6,1270.5 2126.7,1270.2 C2129.8,1269.9 2135.6,1266.2 2137.8,1264.7 C2140.0,1263.2 2139.6,1261.8 2140.0,1261.2" stroke="#111" stroke-width="2.6" fill="none" />
<path d="M2131.5,1750.2 C2134.3,1748.3 2142.1,1741.9 2148.6,1738.7 C2155.1,1735.5 2163.3,1732.4 2170.7,1731.0 C2178.1,1729.6 2186.4,1730.4 2192.9,1730.4 C2199.4,1730.4 2204.1,1730.2 2209.6,1731.0 C2215.1,1731.8 2220.7,1732.8 2226.2,1735.4 C2231.7,1738.0 2238.6,1742.6 2242.8,1746.5 C2247.1,1750.4 2250.0,1754.3 2251.7,1758.7 C2253.4,1763.1 2253.0,1767.9 2252.8,1773.1 C2252.6,1778.3 2251.0,1787.0 2250.6,1789.8" stroke="#111" stroke-width="2.8" fill="none" />
<path d="M2131.5,1769.2 C2134.3,1767.1 2142.1,1760.0 2148.6,1756.5 C2155.1,1753.0 2163.3,1749.9 2170.7,1748.2 C2178.1,1746.5 2186.4,1746.5 2192.9,1746.5 C2199.4,1746.5 2204.1,1746.9 2209.6,1748.2 C2215.1,1749.5 2220.7,1751.8 2226.2,1754.3 C2231.7,1756.8 2238.7,1760.3 2242.8,1763.1 C2246.9,1765.9 2249.3,1769.6 2250.6,1770.9" stroke="#111" stroke-width="2.8" fill="none" />
<path d="M2141.9,1784.2 C2144.8,1784.9 2152.9,1786.8 2159.6,1788.6 C2166.2,1790.3 2174.4,1793.4 2181.8,1794.7 C2189.2,1796.0 2196.6,1796.3 2204.0,1796.4 C2211.4,1796.5 2219.7,1796.6 2226.2,1795.3 C2232.7,1794.0 2238.7,1790.8 2242.8,1788.6 C2246.9,1786.4 2249.3,1783.1 2250.6,1782.0" stroke="#111" stroke-width="2.8" fill="none" />
<path d="M2141.9,1785.3 C2142.3,1786.8 2142.1,1791.2 2144.1,1794.2 C2146.1,1797.2 2149.7,1800.3 2154.1,1803.1 C2158.5,1805.9 2164.2,1809.1 2170.7,1810.8 C2177.2,1812.6 2185.5,1813.4 2192.9,1813.6 C2200.3,1813.8 2208.6,1812.9 2215.1,1811.9 C2221.6,1810.9 2226.6,1809.7 2231.8,1807.5 C2237.0,1805.3 2243.1,1801.5 2246.2,1798.6 C2249.3,1795.6 2249.9,1791.3 2250.6,1789.8" stroke="#111" stroke-width="2.8" fill="none" />
<path d="M2116.7,1760.5 L2123.3,1755.5 L2130.0,1753.0 L2130.0,1778.0 L2127.8,1781.5 L2116.7,1787.0 Z" fill="#8a8a8a" stroke="none"/>
<path d="M2102.8,1750.0 C2103.5,1749.1 2105.9,1745.7 2107.3,1744.5 C2108.7,1743.3 2109.6,1743.0 2111.3,1742.8 C2113.0,1742.5 2115.1,1742.2 2117.3,1743.0 C2119.5,1743.8 2122.2,1745.8 2124.3,1747.5 C2126.4,1749.2 2128.9,1752.1 2129.8,1753.0" stroke="#111" stroke-width="2.6" fill="none" />
<path d="M2102.8,1750.0 C2103.0,1751.1 2103.3,1754.8 2104.3,1756.5 C2105.3,1758.2 2106.8,1759.3 2108.8,1760.0 C2110.8,1760.7 2113.9,1761.2 2116.3,1760.5 C2118.7,1759.8 2121.0,1756.8 2123.3,1755.5 C2125.5,1754.2 2128.7,1753.4 2129.8,1753.0" stroke="#111" stroke-width="2.6" fill="none" />
<path d="M2102.8,1750.0 L2102.8,1778.0" stroke="#111" stroke-width="2.6" fill="none" />
<path d="M2116.7,1760.5 L2116.7,1787.0" stroke="#111" stroke-width="2.6" fill="none" />
<path d="M2130.0,1753.0 L2130.0,1778.0" stroke="#111" stroke-width="2.6" fill="none" />
<path d="M2102.8,1778.0 C2103.9,1778.9 2107.0,1782.0 2109.3,1783.5 C2111.6,1785.0 2113.6,1787.3 2116.7,1787.0 C2119.8,1786.7 2125.6,1783.0 2127.8,1781.5 C2130.0,1780.0 2129.6,1778.6 2130.0,1778.0" stroke="#111" stroke-width="2.6" fill="none" />
<path d="M2128.0,2144.5 C2130.8,2142.6 2138.6,2136.2 2145.1,2133.0 C2151.6,2129.8 2159.8,2126.7 2167.2,2125.3 C2174.6,2123.9 2182.9,2124.7 2189.4,2124.7 C2195.9,2124.7 2200.6,2124.5 2206.1,2125.3 C2211.6,2126.1 2217.2,2127.1 2222.7,2129.7 C2228.2,2132.3 2235.1,2136.9 2239.3,2140.8 C2243.6,2144.7 2246.5,2148.6 2248.2,2153.0 C2249.9,2157.4 2249.5,2162.2 2249.3,2167.4 C2249.1,2172.6 2247.5,2181.3 2247.1,2184.1" stroke="#111" stroke-width="2.8" fill="none" />
<path d="M2128.0,2163.5 C2130.8,2161.4 2138.6,2154.3 2145.1,2150.8 C2151.6,2147.3 2159.8,2144.2 2167.2,2142.5 C2174.6,2140.8 2182.9,2140.8 2189.4,2140.8 C2195.9,2140.8 2200.6,2141.2 2206.1,2142.5 C2211.6,2143.8 2217.2,2146.1 2222.7,2148.6 C2228.2,2151.1 2235.2,2154.6 2239.3,2157.4 C2243.4,2160.2 2245.8,2163.9 2247.1,2165.2" stroke="#111" stroke-width="2.8" fill="none" />
<path d="M2138.4,2178.5 C2141.3,2179.2 2149.4,2181.2 2156.1,2182.9 C2162.8,2184.7 2170.9,2187.7 2178.3,2189.0 C2185.7,2190.3 2193.1,2190.6 2200.5,2190.7 C2207.9,2190.8 2216.2,2190.9 2222.7,2189.6 C2229.2,2188.3 2235.2,2185.1 2239.3,2182.9 C2243.4,2180.7 2245.8,2177.4 2247.1,2176.3" stroke="#111" stroke-width="2.8" fill="none" />
<path d="M2138.4,2179.6 C2138.8,2181.1 2138.6,2185.5 2140.6,2188.5 C2142.6,2191.5 2146.2,2194.6 2150.6,2197.4 C2155.0,2200.2 2160.7,2203.3 2167.2,2205.1 C2173.7,2206.8 2182.0,2207.7 2189.4,2207.9 C2196.8,2208.1 2205.1,2207.2 2211.6,2206.2 C2218.1,2205.2 2223.1,2204.0 2228.3,2201.8 C2233.5,2199.6 2239.6,2195.9 2242.7,2192.9 C2245.8,2189.9 2246.4,2185.6 2247.1,2184.1" stroke="#111" stroke-width="2.8" fill="none" />
<path d="M2113.4,2158.0 L2120.0,2153.0 L2126.7,2150.5 L2126.7,2175.5 L2124.5,2179.0 L2113.4,2184.5 Z" fill="#8a8a8a" stroke="none"/>
<path d="M2099.5,2147.5 C2100.2,2146.6 2102.6,2143.2 2104.0,2142.0 C2105.4,2140.8 2106.3,2140.6 2108.0,2140.3 C2109.7,2140.1 2111.8,2139.7 2114.0,2140.5 C2116.2,2141.3 2118.9,2143.3 2121.0,2145.0 C2123.1,2146.7 2125.6,2149.6 2126.5,2150.5" stroke="#111" stroke-width="2.6" fill="none" />
<path d="M2099.5,2147.5 C2099.8,2148.6 2100.0,2152.3 2101.0,2154.0 C2102.0,2155.7 2103.5,2156.8 2105.5,2157.5 C2107.5,2158.2 2110.6,2158.8 2113.0,2158.0 C2115.4,2157.2 2117.8,2154.2 2120.0,2153.0 C2122.2,2151.8 2125.4,2150.9 2126.5,2150.5" stroke="#111" stroke-width="2.6" fill="none" />
<path d="M2099.5,2147.5 L2099.5,2175.5" stroke="#111" stroke-width="2.6" fill="none" />
<path d="M2113.4,2158.0 L2113.4,2184.5" stroke="#111" stroke-width="2.6" fill="none" />
<path d="M2126.7,2150.5 L2126.7,2175.5" stroke="#111" stroke-width="2.6" fill="none" />
<path d="M2099.5,2175.5 C2100.6,2176.4 2103.7,2179.5 2106.0,2181.0 C2108.3,2182.5 2110.3,2184.8 2113.4,2184.5 C2116.5,2184.2 2122.3,2180.5 2124.5,2179.0 C2126.7,2177.5 2126.3,2176.1 2126.7,2175.5" stroke="#111" stroke-width="2.6" fill="none" />
<path d="M2129.7,2696.4 C2132.5,2694.5 2140.3,2688.1 2146.8,2684.9 C2153.3,2681.7 2161.5,2678.6 2168.9,2677.2 C2176.3,2675.8 2184.6,2676.6 2191.1,2676.6 C2197.6,2676.6 2202.2,2676.4 2207.8,2677.2 C2213.3,2678.0 2218.9,2679.0 2224.4,2681.6 C2229.9,2684.2 2236.8,2688.8 2241.0,2692.7 C2245.2,2696.6 2248.2,2700.5 2249.9,2704.9 C2251.6,2709.3 2251.2,2714.1 2251.0,2719.3 C2250.8,2724.5 2249.2,2733.2 2248.8,2736.0" stroke="#111" stroke-width="2.8" fill="none" />
<path d="M2129.7,2715.4 C2132.5,2713.3 2140.3,2706.2 2146.8,2702.7 C2153.3,2699.2 2161.5,2696.1 2168.9,2694.4 C2176.3,2692.7 2184.6,2692.7 2191.1,2692.7 C2197.6,2692.7 2202.2,2693.1 2207.8,2694.4 C2213.3,2695.7 2218.9,2698.0 2224.4,2700.5 C2229.9,2703.0 2236.9,2706.5 2241.0,2709.3 C2245.1,2712.1 2247.5,2715.8 2248.8,2717.1" stroke="#111" stroke-width="2.8" fill="none" />
<path d="M2140.1,2730.4 C2143.0,2731.1 2151.1,2733.1 2157.8,2734.8 C2164.4,2736.6 2172.6,2739.6 2180.0,2740.9 C2187.4,2742.2 2194.8,2742.5 2202.2,2742.6 C2209.6,2742.7 2217.9,2742.8 2224.4,2741.5 C2230.9,2740.2 2236.9,2737.0 2241.0,2734.8 C2245.1,2732.6 2247.5,2729.3 2248.8,2728.2" stroke="#111" stroke-width="2.8" fill="none" />
<path d="M2140.1,2731.5 C2140.5,2733.0 2140.3,2737.4 2142.3,2740.4 C2144.3,2743.4 2147.9,2746.5 2152.3,2749.3 C2156.7,2752.1 2162.4,2755.2 2168.9,2757.0 C2175.4,2758.8 2183.7,2759.6 2191.1,2759.8 C2198.5,2760.0 2206.8,2759.1 2213.3,2758.1 C2219.8,2757.1 2224.8,2755.9 2230.0,2753.7 C2235.2,2751.5 2241.3,2747.8 2244.4,2744.8 C2247.5,2741.9 2248.1,2737.5 2248.8,2736.0" stroke="#111" stroke-width="2.8" fill="none" />
<path d="M2116.1,2707.6 L2122.7,2702.6 L2129.4,2700.1 L2129.4,2725.1 L2127.2,2728.6 L2116.1,2734.1 Z" fill="#8a8a8a" stroke="none"/>
<path d="M2102.2,2697.1 C2102.9,2696.2 2105.3,2692.8 2106.7,2691.6 C2108.1,2690.4 2109.0,2690.2 2110.7,2689.9 C2112.4,2689.7 2114.5,2689.3 2116.7,2690.1 C2118.9,2690.9 2121.6,2692.9 2123.7,2694.6 C2125.8,2696.3 2128.3,2699.2 2129.2,2700.1" stroke="#111" stroke-width="2.6" fill="none" />
<path d="M2102.2,2697.1 C2102.4,2698.2 2102.7,2701.9 2103.7,2703.6 C2104.7,2705.3 2106.2,2706.4 2108.2,2707.1 C2110.2,2707.8 2113.3,2708.3 2115.7,2707.6 C2118.1,2706.8 2120.4,2703.8 2122.7,2702.6 C2124.9,2701.3 2128.1,2700.5 2129.2,2700.1" stroke="#111" stroke-width="2.6" fill="none" />
<path d="M2102.2,2697.1 L2102.2,2725.1" stroke="#111" stroke-width="2.6" fill="none" />
<path d="M2116.1,2707.6 L2116.1,2734.1" stroke="#111" stroke-width="2.6" fill="none" />
<path d="M2129.4,2700.1 L2129.4,2725.1" stroke="#111" stroke-width="2.6" fill="none" />
<path d="M2102.2,2725.1 C2103.3,2726.0 2106.4,2729.1 2108.7,2730.6 C2111.0,2732.1 2113.0,2734.4 2116.1,2734.1 C2119.2,2733.8 2125.0,2730.1 2127.2,2728.6 C2129.4,2727.1 2129.0,2725.7 2129.4,2725.1" stroke="#111" stroke-width="2.6" fill="none" />
<path d="M2192.8,2712.0 L2192.8,2762.0" stroke="#111" stroke-width="2.4" fill="none" />
<path d="M2172.0,2742.0 L2215.0,2742.0" stroke="#111" stroke-width="2.4" fill="none" />
<path d="M2187.8,157.0 C2187.8,149.2 2187.5,119.3 2188.0,110.0 C2188.5,100.7 2189.1,103.0 2191.0,101.0 C2192.9,99.0 2196.7,97.8 2199.5,97.8 C2202.3,97.8 2205.9,99.0 2208.0,101.0 C2210.1,103.0 2211.0,100.7 2212.0,110.0 C2213.0,119.3 2213.7,149.2 2214.0,157.0" stroke="#111" stroke-width="2.8" fill="none" />
<path d="M2199.5,102.0 L2199.5,160.0" stroke="#111" stroke-width="2.8" fill="none" />
<path d="M2203.4,102.0 L2203.4,152.0 L2211.0,152.0 L2211.0,105.0" stroke="#111" stroke-width="2.8" fill="none" />
<rect x="2179.6" y="157" width="41" height="15" fill="#222"/>
<path d="M2176.0,172.0 C2175.6,173.3 2174.1,175.3 2173.7,180.0 C2173.3,184.7 2173.0,195.8 2173.7,200.0 C2174.4,204.2 2177.3,204.6 2178.0,205.5" stroke="#111" stroke-width="2.8" fill="none" />
<path d="M2224.0,172.0 C2224.1,173.3 2224.5,175.3 2224.6,180.0 C2224.7,184.7 2225.3,195.8 2224.6,200.0 C2223.9,204.2 2221.3,204.6 2220.6,205.5" stroke="#111" stroke-width="2.8" fill="none" />
<path d="M2176.0,172.0 L2224.0,172.0" stroke="#111" stroke-width="2.8" fill="none" />
<path d="M2176.0,186.0 C2177.5,186.6 2181.0,188.8 2185.0,189.5 C2189.0,190.2 2195.0,190.0 2200.0,190.0 C2205.0,190.0 2211.0,190.2 2215.0,189.5 C2219.0,188.8 2222.5,186.6 2224.0,186.0" stroke="#111" stroke-width="2.8" fill="none" />
<path d="M2178.0,205.5 C2180.0,206.1 2186.3,208.3 2190.0,209.0 C2193.7,209.7 2196.3,209.5 2200.0,209.5 C2203.7,209.5 2208.6,209.7 2212.0,209.0 C2215.4,208.3 2219.2,206.1 2220.6,205.5" stroke="#111" stroke-width="4" fill="none" />
<path d="M2177.0,205.5 L2177.0,289.0" stroke="#111" stroke-width="1.8" fill="none" />
<path d="M2220.6,205.5 L2220.6,289.0" stroke="#666" stroke-width="1.8" fill="none" />
<path d="M2173.7,289.0 C2173.7,293.8 2173.3,312.0 2173.7,318.0 C2174.1,324.0 2175.6,323.8 2176.0,325.0" stroke="#111" stroke-width="2.8" fill="none" />
<path d="M2224.6,289.0 C2224.6,293.8 2225.0,312.0 2224.6,318.0 C2224.2,324.0 2222.4,323.8 2222.0,325.0" stroke="#111" stroke-width="2.8" fill="none" />
<path d="M2177.0,295.0 C2178.8,296.0 2184.2,299.8 2188.0,301.0 C2191.8,302.2 2196.0,302.0 2200.0,302.0 C2204.0,302.0 2208.5,302.2 2212.0,301.0 C2215.5,299.8 2219.5,296.0 2221.0,295.0" stroke="#111" stroke-width="2.8" fill="none" />
<path d="M2174.0,311.0 C2175.8,311.7 2180.7,314.2 2185.0,315.0 C2189.3,315.8 2195.0,316.0 2200.0,316.0 C2205.0,316.0 2211.0,315.8 2215.0,315.0 C2219.0,314.2 2222.5,311.7 2224.0,311.0" stroke="#111" stroke-width="2.8" fill="none" />
<path d="M2176.0,325.0 C2176.7,326.7 2177.7,332.6 2180.0,335.0 C2182.3,337.4 2186.7,338.7 2190.0,339.5 C2193.3,340.3 2196.3,340.1 2200.0,340.0 C2203.7,339.9 2208.8,339.8 2212.0,339.0 C2215.2,338.2 2217.3,337.3 2219.0,335.0 C2220.7,332.7 2221.5,326.7 2222.0,325.0" stroke="#111" stroke-width="2.8" fill="none" />
<path d="M2180.0,322.0 C2183.3,322.3 2193.7,324.0 2200.0,324.0 C2206.3,324.0 2215.0,322.3 2218.0,322.0" stroke="#111" stroke-width="2.8" fill="none" />
<path d="M2177.0,986.0 C2177.0,983.7 2176.2,975.2 2177.0,972.0 C2177.8,968.8 2178.9,967.7 2182.0,966.5 C2185.1,965.3 2190.9,965.0 2195.4,965.0 C2199.9,965.0 2205.8,965.3 2209.0,966.5 C2212.2,967.7 2213.4,968.8 2214.3,972.0 C2215.2,975.2 2214.3,983.7 2214.3,986.0" stroke="#111" stroke-width="2.8" fill="none" />
<path d="M2177.0,978.0 C2178.3,979.0 2181.9,982.8 2185.0,984.0 C2188.1,985.2 2191.9,985.5 2195.4,985.5 C2198.9,985.5 2202.8,985.2 2206.0,984.0 C2209.2,982.8 2212.9,979.0 2214.3,978.0" stroke="#111" stroke-width="3.5" fill="none" />
<path d="M2170.1,987.0 C2170.1,989.2 2169.8,996.8 2170.1,1000.0 C2170.4,1003.2 2171.7,1005.0 2172.0,1006.0" stroke="#111" stroke-width="2.8" fill="none" />
<path d="M2219.7,987.0 C2219.7,989.2 2220.0,996.8 2219.7,1000.0 C2219.4,1003.2 2218.3,1005.0 2218.0,1006.0" stroke="#111" stroke-width="2.8" fill="none" />
<path d="M2172.0,1002.0 C2173.7,1002.9 2178.2,1006.4 2182.0,1007.5 C2185.8,1008.6 2190.7,1008.5 2195.0,1008.5 C2199.3,1008.5 2204.2,1008.6 2208.0,1007.5 C2211.8,1006.4 2216.3,1002.9 2218.0,1002.0" stroke="#111" stroke-width="3" fill="none" />
<path d="M2170.1,1006.0 C2170.1,1008.0 2169.8,1015.3 2170.1,1018.0 C2170.4,1020.7 2171.7,1021.3 2172.0,1022.0" stroke="#111" stroke-width="2.8" fill="none" />
<path d="M2219.7,1006.0 C2219.7,1008.0 2220.0,1015.3 2219.7,1018.0 C2219.4,1020.7 2218.3,1021.3 2218.0,1022.0" stroke="#111" stroke-width="2.8" fill="none" />
<path d="M2172.0,1020.0 C2173.7,1020.9 2178.2,1024.3 2182.0,1025.5 C2185.8,1026.7 2190.7,1027.0 2195.0,1027.0 C2199.3,1027.0 2204.2,1026.7 2208.0,1025.5 C2211.8,1024.3 2216.3,1020.9 2218.0,1020.0" stroke="#111" stroke-width="3" fill="none" />
<path d="M2170.9,1025.0 L2170.9,1107.0" stroke="#666" stroke-width="1.8" fill="none" />
<path d="M2216.8,1025.0 L2216.8,1107.0" stroke="#111" stroke-width="1.8" fill="none" />
<path d="M2167.0,1106.0 C2167.0,1108.7 2166.5,1118.7 2167.0,1122.0 C2167.5,1125.3 2169.5,1125.3 2170.0,1126.0" stroke="#111" stroke-width="2.8" fill="none" />
<path d="M2220.0,1106.0 C2220.0,1108.7 2220.5,1118.7 2220.0,1122.0 C2219.5,1125.3 2217.5,1125.3 2217.0,1126.0" stroke="#111" stroke-width="2.8" fill="none" />
<path d="M2172.0,1113.0 C2173.7,1114.0 2178.2,1117.8 2182.0,1119.0 C2185.8,1120.2 2190.7,1120.0 2195.0,1120.0 C2199.3,1120.0 2204.3,1120.2 2208.0,1119.0 C2211.7,1117.8 2215.5,1114.0 2217.0,1113.0" stroke="#111" stroke-width="2.8" fill="none" />
<path d="M2170.0,1126.0 C2170.4,1128.3 2171.1,1136.0 2172.3,1140.0 C2173.5,1144.0 2174.7,1147.6 2177.0,1150.0 C2179.3,1152.4 2183.0,1153.7 2186.0,1154.5 C2189.0,1155.3 2191.8,1155.0 2195.0,1155.0 C2198.2,1155.0 2202.2,1155.3 2205.0,1154.5 C2207.8,1153.7 2210.3,1152.4 2212.0,1150.0 C2213.7,1147.6 2214.6,1144.0 2215.4,1140.0 C2216.2,1136.0 2216.7,1128.3 2217.0,1126.0" stroke="#111" stroke-width="2.8" fill="none" />
<path d="M2175.0,1136.0 C2176.7,1136.8 2181.7,1140.1 2185.0,1141.0 C2188.3,1141.9 2191.7,1141.5 2195.0,1141.5 C2198.3,1141.5 2201.8,1141.9 2205.0,1141.0 C2208.2,1140.1 2212.5,1136.8 2214.0,1136.0" stroke="#111" stroke-width="2.8" fill="none" />
<path d="M2178.0,1901.0 C2178.0,1898.7 2177.2,1890.2 2178.0,1887.0 C2178.8,1883.8 2179.9,1882.7 2183.0,1881.5 C2186.1,1880.3 2191.9,1880.0 2196.4,1880.0 C2200.9,1880.0 2206.8,1880.3 2210.0,1881.5 C2213.2,1882.7 2214.4,1883.8 2215.3,1887.0 C2216.2,1890.2 2215.3,1898.7 2215.3,1901.0" stroke="#111" stroke-width="2.8" fill="none" />
<path d="M2178.0,1893.0 C2179.3,1894.0 2182.9,1897.8 2186.0,1899.0 C2189.1,1900.2 2192.9,1900.5 2196.4,1900.5 C2199.9,1900.5 2203.8,1900.2 2207.0,1899.0 C2210.2,1897.8 2213.9,1894.0 2215.3,1893.0" stroke="#111" stroke-width="3.5" fill="none" />
<path d="M2171.1,1902.0 C2171.1,1904.2 2170.8,1911.8 2171.1,1915.0 C2171.4,1918.2 2172.7,1920.0 2173.0,1921.0" stroke="#111" stroke-width="2.8" fill="none" />
<path d="M2220.7,1902.0 C2220.7,1904.2 2221.0,1911.8 2220.7,1915.0 C2220.4,1918.2 2219.3,1920.0 2219.0,1921.0" stroke="#111" stroke-width="2.8" fill="none" />
<path d="M2173.0,1917.0 C2174.7,1917.9 2179.2,1921.4 2183.0,1922.5 C2186.8,1923.6 2191.7,1923.5 2196.0,1923.5 C2200.3,1923.5 2205.2,1923.6 2209.0,1922.5 C2212.8,1921.4 2217.3,1917.9 2219.0,1917.0" stroke="#111" stroke-width="3" fill="none" />
<path d="M2171.1,1921.0 C2171.1,1923.0 2170.8,1930.3 2171.1,1933.0 C2171.4,1935.7 2172.7,1936.3 2173.0,1937.0" stroke="#111" stroke-width="2.8" fill="none" />
<path d="M2220.7,1921.0 C2220.7,1923.0 2221.0,1930.3 2220.7,1933.0 C2220.4,1935.7 2219.3,1936.3 2219.0,1937.0" stroke="#111" stroke-width="2.8" fill="none" />
<path d="M2173.0,1935.0 C2174.7,1935.9 2179.2,1939.3 2183.0,1940.5 C2186.8,1941.7 2191.7,1942.0 2196.0,1942.0 C2200.3,1942.0 2205.2,1941.7 2209.0,1940.5 C2212.8,1939.3 2217.3,1935.9 2219.0,1935.0" stroke="#111" stroke-width="3" fill="none" />
<path d="M2171.9,1940.0 L2171.9,2022.0" stroke="#666" stroke-width="1.8" fill="none" />
<path d="M2217.8,1940.0 L2217.8,2022.0" stroke="#111" stroke-width="1.8" fill="none" />
<path d="M2168.0,2021.0 C2168.0,2023.7 2167.5,2033.7 2168.0,2037.0 C2168.5,2040.3 2170.5,2040.3 2171.0,2041.0" stroke="#111" stroke-width="2.8" fill="none" />
<path d="M2221.0,2021.0 C2221.0,2023.7 2221.5,2033.7 2221.0,2037.0 C2220.5,2040.3 2218.5,2040.3 2218.0,2041.0" stroke="#111" stroke-width="2.8" fill="none" />
<path d="M2173.0,2028.0 C2174.7,2029.0 2179.2,2032.8 2183.0,2034.0 C2186.8,2035.2 2191.7,2035.0 2196.0,2035.0 C2200.3,2035.0 2205.3,2035.2 2209.0,2034.0 C2212.7,2032.8 2216.5,2029.0 2218.0,2028.0" stroke="#111" stroke-width="2.8" fill="none" />
<path d="M2171.0,2041.0 C2171.4,2043.3 2172.1,2051.0 2173.3,2055.0 C2174.5,2059.0 2175.7,2062.6 2178.0,2065.0 C2180.3,2067.4 2184.0,2068.7 2187.0,2069.5 C2190.0,2070.3 2192.8,2070.0 2196.0,2070.0 C2199.2,2070.0 2203.2,2070.3 2206.0,2069.5 C2208.8,2068.7 2211.3,2067.4 2213.0,2065.0 C2214.7,2062.6 2215.6,2059.0 2216.4,2055.0 C2217.2,2051.0 2217.7,2043.3 2218.0,2041.0" stroke="#111" stroke-width="2.8" fill="none" />
<path d="M2176.0,2051.0 C2177.7,2051.8 2182.7,2055.1 2186.0,2056.0 C2189.3,2056.9 2192.7,2056.5 2196.0,2056.5 C2199.3,2056.5 2202.8,2056.9 2206.0,2056.0 C2209.2,2055.1 2213.5,2051.8 2215.0,2051.0" stroke="#111" stroke-width="2.8" fill="none" />
<path d="M2455.8,1723 L2477.8,1723 L2477.8,1825.8 L2455.8,1825.8 L2455.8,1745 L2430.9,1757.3 L2430.9,1736.8 Z" fill="#000"/>
<text transform="translate(2358.56,411.00) scale(1.0108,1.0000)" x="0" y="0" font-family="Liberation Sans, sans-serif" font-weight="bold" font-size="148" fill="#000" stroke="#000" stroke-width="2.4" stroke-linejoin="round">2</text>
<text transform="translate(1930.44,507.76) scale(0.9776,1.0121)" x="0" y="0" font-family="Liberation Sans, sans-serif" font-weight="bold" font-size="148" fill="#000" stroke="#000" stroke-width="2.4" stroke-linejoin="round">3</text>
<text transform="translate(1936.24,975.82) scale(0.9573,0.9790)" x="0" y="0" font-family="Liberation Sans, sans-serif" font-weight="bold" font-size="148" fill="#000" stroke="#000" stroke-width="2.4" stroke-linejoin="round">4</text>
<text transform="translate(1931.29,1446.94) scale(0.9539,1.0206)" x="0" y="0" font-family="Liberation Sans, sans-serif" font-weight="bold" font-size="148" fill="#000" stroke="#000" stroke-width="2.4" stroke-linejoin="round">3</text>
<text transform="translate(1931.55,1887.51) scale(0.9451,0.9914)" x="0" y="0" font-family="Liberation Sans, sans-serif" font-weight="bold" font-size="148" fill="#000" stroke="#000" stroke-width="2.4" stroke-linejoin="round">4</text>
<text transform="translate(1914.02,2381.99) scale(0.9408,1.0047)" x="0" y="0" font-family="Liberation Sans, sans-serif" font-weight="bold" font-size="148" fill="#000" stroke="#000" stroke-width="2.4" stroke-linejoin="round">3</text>
<text transform="translate(1357.42,953.69) scale(0.9276,1.0047)" x="0" y="0" font-family="Liberation Sans, sans-serif" font-weight="bold" font-size="148" fill="#000" stroke="#000" stroke-width="2.4" stroke-linejoin="round">5</text>
</svg>
</body></html>
